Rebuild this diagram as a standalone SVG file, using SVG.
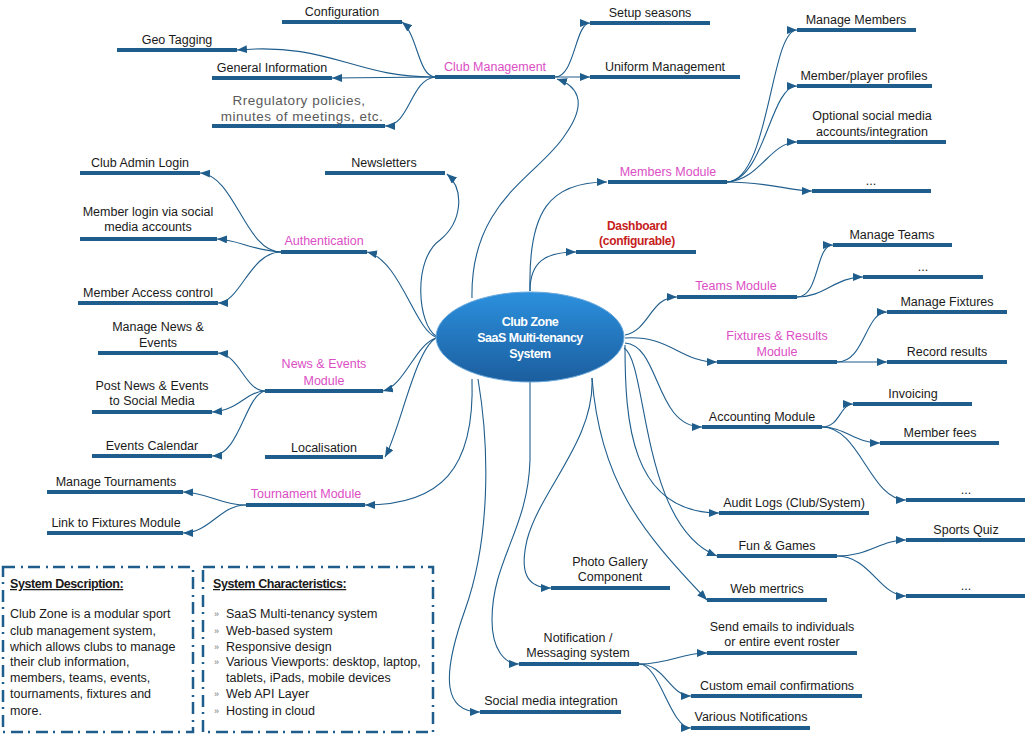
<svg xmlns="http://www.w3.org/2000/svg" width="1029" height="734" viewBox="0 0 1029 734">
<defs>
<style>
text{font-family:"Liberation Sans",Arial,sans-serif;font-size:12.5px;fill:#1a1a1a;text-anchor:middle}
.m{fill:#dc4ec5}
.g{fill:#5a5a5a;font-size:13.5px;letter-spacing:0.5px}
.d{fill:#c62020;font-weight:bold;font-size:12px;letter-spacing:-0.3px}
.c{fill:#ffffff;font-weight:bold;letter-spacing:-0.5px}
.bar{stroke:#1f5d8c;stroke-width:4;stroke-linecap:butt}
.con path{fill:none;stroke:#1f5d8c;stroke-width:1.1;marker-end:url(#a)}
.box{fill:none;stroke:#1f5d8c;stroke-width:2.5;stroke-dasharray:12 6 2 5}
.bt{text-anchor:start;font-size:12.5px}
.h{font-weight:bold;text-decoration:underline;letter-spacing:-0.4px}
.bl{fill:#777;font-size:9px}
</style>
<marker id="a" viewBox="0 0 10 8" refX="10" refY="4" markerWidth="10" markerHeight="8" markerUnits="userSpaceOnUse" orient="auto"><path d="M0,0 L10,4 L0,8 z" fill="#1f5d8c"/></marker>
<linearGradient id="eg" x1="0" y1="0" x2="0" y2="1"><stop offset="0" stop-color="#2c90de"/><stop offset="1" stop-color="#1b5e9e"/></linearGradient>
</defs>

<g id="connectors" class="con">
<!-- center to modules -->
<path d="M472,298 C470,200 540,175 565,135 C590,100 575,85 557,79"/>
<path d="M530,291 C528,210 550,182 607,182"/>
<path d="M530,291 C530,262 545,252 576,252"/>
<path d="M625,335 C650,330 650,297 677,297"/>
<path d="M625,338 C670,335 680,362 717,362"/>
<path d="M625,343 C660,345 655,427 702,427"/>
<path d="M625,345 C625,420 630,513 719,513"/>
<path d="M624,348 C648,362 640,525 717,556"/>
<path d="M592,378 C600,480 640,530 707,600"/>
<path d="M592,378 C595,440 540,490 527,540 C520,570 525,588 551,588"/>
<path d="M530,382 L530,460 C528,530 492,560 492,620 C492,650 505,664 519,664"/>
<path d="M478,379 C490,450 490,540 465,610 C440,680 445,712 480,712"/>
<path d="M472,379 C475,470 440,505 365,505"/>
<path d="M436,337 C415,330 400,260 367,252"/>
<path d="M436,336 C418,325 412,260 440,240 C462,222 465,190 447,174"/>
<path d="M436,338 C415,345 405,385 383,391"/>
<path d="M436,338 C415,350 400,430 385,457"/>
<!-- Club Management children -->
<path d="M435,77 C418,76 418,35 402,22"/>
<path d="M435,77 C355,78 330,42 237,50"/>
<path d="M435,77 L332,78"/>
<path d="M435,77 C410,80 410,126 385,126"/>
<path d="M555,77 C575,77 575,23 590,23"/>
<path d="M555,77 L590,77"/>
<!-- Members children -->
<path d="M727,182 C770,180 770,30 797,30"/>
<path d="M727,182 C765,180 770,86 797,86"/>
<path d="M727,182 C760,180 770,142 797,142"/>
<path d="M727,182 C770,182 790,191 812,191"/>
<!-- Teams children -->
<path d="M797,297 C820,297 815,245 833,245"/>
<path d="M797,297 C825,297 835,277 863,277"/>
<!-- Fixtures children -->
<path d="M837,362 C865,362 865,312 887,312"/>
<path d="M837,362 C855,362 865,362 887,362"/>
<!-- Accounting children -->
<path d="M822,427 C840,427 840,404 853,404"/>
<path d="M822,427 C845,427 855,443 880,443"/>
<path d="M822,427 C860,427 870,500 906,500"/>
<!-- Fun & Games children -->
<path d="M837,556 C870,556 880,540 906,540"/>
<path d="M837,556 C870,556 880,596 906,596"/>
<!-- Notification children -->
<path d="M639,664 C670,664 680,653 707,653"/>
<path d="M639,664 C665,664 670,696 691,696"/>
<path d="M639,664 C660,664 670,728 691,728"/>
<!-- Authentication children -->
<path d="M281,252 C245,252 235,175 200,173"/>
<path d="M281,252 C250,250 240,240 217,239"/>
<path d="M281,252 C250,252 240,303 218,303"/>
<!-- News children -->
<path d="M265,391 C245,391 240,355 218,353"/>
<path d="M265,391 C245,392 240,410 212,412"/>
<path d="M265,391 C245,395 240,455 212,456"/>
<!-- Tournament children -->
<path d="M246,505 C220,505 210,493 183,492"/>
<path d="M246,505 C220,505 210,533 183,533"/>
</g>

<g id="center">
<ellipse cx="530" cy="337" rx="94" ry="45" fill="url(#eg)" stroke="#6aa9dc" stroke-width="1"/>
<text class="c" x="530" y="326">Club Zone</text>
<text class="c" x="530" y="342">SaaS Multi-tenancy</text>
<text class="c" x="530" y="358">System</text>
</g>

<g id="club-management"><line class="bar" x1="435" y1="77" x2="555" y2="77"/><text class="m" x="495" y="71">Club Management</text></g>
<g id="configuration"><line class="bar" x1="282" y1="22" x2="402" y2="22"/><text x="342" y="16">Configuration</text></g>
<g id="geo-tagging"><line class="bar" x1="117" y1="50" x2="237" y2="50"/><text x="177" y="44">Geo Tagging</text></g>
<g id="general-information"><line class="bar" x1="212" y1="78" x2="332" y2="78"/><text x="272" y="72">General Information</text></g>
<g id="regulatory"><line class="bar" x1="212" y1="126" x2="385" y2="126"/><text class="g" x="299" y="104.5">Rregulatory policies,</text><text class="g" x="302" y="120.5">minutes of meetings, etc.</text></g>
<g id="setup-seasons"><line class="bar" x1="590" y1="23" x2="710" y2="23"/><text x="650" y="17">Setup seasons</text></g>
<g id="uniform-management"><line class="bar" x1="590" y1="77" x2="740" y2="77"/><text x="665" y="71">Uniform Management</text></g>

<g id="members-module"><line class="bar" x1="608" y1="182" x2="727" y2="182"/><text class="m" x="668" y="176">Members Module</text></g>
<g id="manage-members"><line class="bar" x1="797" y1="30" x2="916" y2="30"/><text x="856" y="24">Manage Members</text></g>
<g id="member-profiles"><line class="bar" x1="797" y1="86" x2="932" y2="86"/><text x="864" y="80">Member/player profiles</text></g>
<g id="social-accounts"><line class="bar" x1="797" y1="142" x2="946" y2="142"/><text x="872" y="120">Optional social media</text><text x="872" y="136">accounts/integration</text></g>
<g id="members-more"><line class="bar" x1="812" y1="191" x2="931" y2="191"/><text x="871" y="185">...</text></g>

<g id="dashboard"><line class="bar" x1="576" y1="252" x2="696" y2="252"/><text class="d" x="637" y="230">Dashboard</text><text class="d" x="637" y="245">(configurable)</text></g>

<g id="teams-module"><line class="bar" x1="677" y1="297" x2="797" y2="297"/><text class="m" x="736" y="290">Teams Module</text></g>
<g id="manage-teams"><line class="bar" x1="833" y1="245" x2="952" y2="245"/><text x="892" y="239">Manage Teams</text></g>
<g id="teams-more"><line class="bar" x1="863" y1="277" x2="983" y2="277"/><text x="923" y="271">...</text></g>

<g id="fixtures-module"><line class="bar" x1="717" y1="362" x2="837" y2="362"/><text class="m" x="777" y="340">Fixtures &amp; Results</text><text class="m" x="777" y="356">Module</text></g>
<g id="manage-fixtures"><line class="bar" x1="887" y1="312" x2="1007" y2="312"/><text x="947" y="306">Manage Fixtures</text></g>
<g id="record-results"><line class="bar" x1="887" y1="362" x2="1007" y2="362"/><text x="947" y="356">Record results</text></g>

<g id="accounting-module"><line class="bar" x1="702" y1="427" x2="822" y2="427"/><text x="762" y="421">Accounting Module</text></g>
<g id="invoicing"><line class="bar" x1="853" y1="404" x2="972" y2="404"/><text x="913" y="398">Invoicing</text></g>
<g id="member-fees"><line class="bar" x1="880" y1="443" x2="999" y2="443"/><text x="940" y="437">Member fees</text></g>
<g id="accounting-more"><line class="bar" x1="906" y1="500" x2="1025" y2="500"/><text x="966" y="494">...</text></g>

<g id="audit-logs"><line class="bar" x1="719" y1="513" x2="869" y2="513"/><text x="794" y="507">Audit Logs (Club/System)</text></g>
<g id="fun-games"><line class="bar" x1="717" y1="556" x2="837" y2="556"/><text x="777" y="550">Fun &amp; Games</text></g>
<g id="sports-quiz"><line class="bar" x1="906" y1="540" x2="1025" y2="540"/><text x="966" y="534">Sports Quiz</text></g>
<g id="fun-more"><line class="bar" x1="906" y1="596" x2="1025" y2="596"/><text x="966" y="590">...</text></g>
<g id="web-metrics"><line class="bar" x1="707" y1="600" x2="827" y2="600"/><text x="767" y="593">Web mertrics</text></g>

<g id="photo-gallery"><line class="bar" x1="551" y1="588" x2="670" y2="588"/><text x="610" y="566">Photo Gallery</text><text x="610" y="581">Component</text></g>
<g id="notification"><line class="bar" x1="519" y1="664" x2="639" y2="664"/><text x="578" y="642">Notification /</text><text x="578" y="657">Messaging system</text></g>
<g id="send-emails"><line class="bar" x1="707" y1="653" x2="857" y2="653"/><text x="782" y="631">Send emails to individuals</text><text x="782" y="646">or entire event roster</text></g>
<g id="custom-email"><line class="bar" x1="691" y1="696" x2="862" y2="696"/><text x="777" y="690">Custom email confirmations</text></g>
<g id="various-notifications"><line class="bar" x1="691" y1="728" x2="810" y2="728"/><text x="751" y="721">Various Notifications</text></g>
<g id="social-media-integration"><line class="bar" x1="480" y1="712" x2="621" y2="712"/><text x="551" y="705">Social media integration</text></g>

<g id="authentication"><line class="bar" x1="281" y1="252" x2="367" y2="252"/><text class="m" x="324" y="245">Authentication</text></g>
<g id="club-admin-login"><line class="bar" x1="80" y1="173" x2="200" y2="173"/><text x="140" y="167">Club Admin Login</text></g>
<g id="member-login"><line class="bar" x1="80" y1="239" x2="217" y2="239"/><text x="148" y="216">Member login via social</text><text x="148" y="231">media accounts</text></g>
<g id="member-access"><line class="bar" x1="78" y1="303" x2="218" y2="303"/><text x="148" y="297">Member Access control</text></g>
<g id="newsletters"><line class="bar" x1="325" y1="173" x2="445" y2="173"/><text x="384" y="167">Newsletters</text></g>

<g id="news-module"><line class="bar" x1="265" y1="391" x2="383" y2="391"/><text class="m" x="324" y="368">News &amp; Events</text><text class="m" x="324" y="385">Module</text></g>
<g id="manage-news"><line class="bar" x1="98" y1="353" x2="218" y2="353"/><text x="158" y="331">Manage News &amp;</text><text x="158" y="347">Events</text></g>
<g id="post-news"><line class="bar" x1="92" y1="412" x2="212" y2="412"/><text x="152" y="390">Post News &amp; Events</text><text x="152" y="405">to Social Media</text></g>
<g id="events-calendar"><line class="bar" x1="92" y1="456" x2="212" y2="456"/><text x="152" y="450">Events Calendar</text></g>
<g id="localisation"><line class="bar" x1="265" y1="457" x2="383" y2="457"/><text x="324" y="452">Localisation</text></g>

<g id="tournament-module"><line class="bar" x1="246" y1="505" x2="365" y2="505"/><text class="m" x="306" y="498">Tournament Module</text></g>
<g id="manage-tournaments"><line class="bar" x1="47" y1="492" x2="183" y2="492"/><text x="116" y="486">Manage Tournaments</text></g>
<g id="link-fixtures"><line class="bar" x1="47" y1="533" x2="183" y2="533"/><text x="116" y="527">Link to Fixtures Module</text></g>

<g id="system-description">
<rect class="box" x="3" y="567" width="190" height="165"/>
<text class="bt h" x="10" y="588">System Description:</text>
<text class="bt" x="10" y="618">Club Zone is a modular sport</text>
<text class="bt" x="10" y="635">club management system,</text>
<text class="bt" x="10" y="651">which allows clubs to manage</text>
<text class="bt" x="10" y="666">their club information,</text>
<text class="bt" x="10" y="682">members, teams, events,</text>
<text class="bt" x="10" y="698">tournaments, fixtures and</text>
<text class="bt" x="10" y="715">more.</text>
</g>
<g id="system-characteristics">
<rect class="box" x="203" y="567" width="230" height="165"/>
<text class="bt h" x="213" y="588">System Characteristics:</text>
<text class="bt bl" x="214" y="617">»</text><text class="bt" x="226" y="618">SaaS Multi-tenancy system</text>
<text class="bt bl" x="214" y="634">»</text><text class="bt" x="226" y="635">Web-based system</text>
<text class="bt bl" x="214" y="650">»</text><text class="bt" x="226" y="651">Responsive design</text>
<text class="bt bl" x="214" y="665">»</text><text class="bt" x="226" y="666">Various Viewports: desktop, laptop,</text>
<text class="bt" x="226" y="682">tablets, iPads, mobile devices</text>
<text class="bt bl" x="214" y="697">»</text><text class="bt" x="226" y="698">Web API Layer</text>
<text class="bt bl" x="214" y="714">»</text><text class="bt" x="226" y="715">Hosting in cloud</text>
</g>
</svg>
